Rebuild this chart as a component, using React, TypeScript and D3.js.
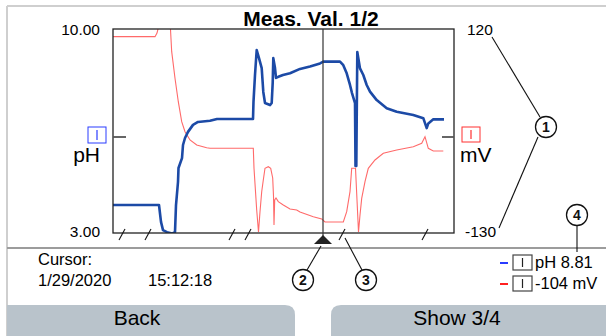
import * as d3 from "d3";

// pH series: [sample, pH]
const phPoints: [number, number][] = [
  [0, 3.96], [46, 3.96], [48, 3.38], [50, 3.1], [54, 3.03], [59, 2.98], [62, 3.03],
  [63, 3.96], [65, 4.75], [65.5, 5.23], [69, 5.57], [70, 6.02], [72, 6.26], [75, 6.47],
  [80, 6.71], [85, 6.81], [97, 6.85], [104, 6.91], [140, 6.91], [140.5, 7.51], [142, 8.42],
  [143.7, 9.28], [146, 9.0], [148.7, 8.66], [150.3, 7.84], [152, 7.46], [157, 7.39],
  [158.7, 7.46], [159.7, 8.15], [160.3, 9.0], [162, 8.66], [163, 8.32], [165.3, 8.36],
  [170, 8.42], [177, 8.48], [187, 8.63], [197, 8.71], [207, 8.82], [210.3, 8.88], [227, 8.88],
  [230.3, 8.76], [233.7, 8.48], [237, 8.08], [239, 7.8], [242, 7.46], [242.5, 5.3],
  [243.3, 5.3], [244.3, 9.21], [247, 8.65], [250.3, 8.42], [253.7, 8.08], [257, 7.85],
  [263.7, 7.56], [273.7, 7.28], [283.7, 7.16], [300.3, 7.05], [310.3, 6.94], [313.7, 6.6],
  [315.3, 6.76], [320.3, 6.9], [331, 6.9],
];

// mV series: [sample, mV]
const mvPoints: [number, number][] = [
  [0, 110.6], [42, 110.6], [44, 115], [45.5, 122.5], [47, 135], [56, 135], [57.5, 119.4],
  [58.7, 92.2], [62, 59.6], [65.3, 30.9], [68.7, 6.4], [72, -5.9], [77, -16], [83.7, -22.2],
  [93.7, -25.5], [97, -26.2], [140.3, -26.2], [141, -50.7], [143.7, -101.8], [145.5, -128.8],
  [147, -103.9], [148.7, -79.4], [150.3, -65], [152, -50.7], [155.3, -48.8], [157.7, -50.7],
  [159.7, -62.6], [160.5, -84.7], [161, -120.2], [161.7, -89.6], [163, -87.1], [165.3, -91.6],
  [170.3, -95.7], [177, -100.6], [183.7, -101.8], [187, -104.3], [200.3, -110], [208.7, -112.8],
  [212, -116.5], [230.3, -116.5], [233.7, -103.9], [237, -79.4], [238.7, -50.7], [242.5, -50.7],
  [244, -89.6], [245.5, -128.8], [247, -108], [248.7, -87.5], [252, -67.1], [255.3, -50.7],
  [262, -40.5], [270.3, -32.3], [283.7, -28.3], [300.3, -24.2], [308.7, -20.1], [312, -12],
  [315.3, -26.2], [320.3, -29.5], [330.3, -29.5],
];

const phDomain = [3, 10];
const mvDomain = [-130, 120];
const phTickLabels = ["10.00", "3.00"];
const mvTickLabels = ["120", "-130"];
const breakT = [9, 35, 119, 135, 229, 312];
const cursorT = 210;
const cursorDate = "1/29/2020";
const cursorTime = "15:12:18";
const legendLabels = ["pH 8.81", "-104 mV"];
const legendColors = ["#2a3cff", "#ff2020"];

const FONT = "'Liberation Sans', Arial, sans-serif";
const BLUE = "#1c4aa6";
const RED = "#ff6a6a";
const BTN = "#b9c3cb";

function Callout({ cx, cy, n }: { cx: number; cy: number; n: string }) {
  return (
    <g>
      <circle cx={cx} cy={cy} r={10.5} fill="#fff" stroke="#111" strokeWidth={1.3} />
      <text x={cx} y={cy + 5} textAnchor="middle" fontFamily={FONT} fontWeight="bold" fontSize={14} fill="#111">
        {n}
      </text>
    </g>
  );
}

export default function App() {
  const W = 606;
  const H = 336;
  const left = 113, right = 454, top = 29, bottom = 233;

  const x = d3.scaleLinear().domain([0, 341]).range([left, right]);
  const yPh = d3.scaleLinear().domain(phDomain).range([bottom, top]);
  const yMv = d3.scaleLinear().domain(mvDomain).range([bottom, top]);

  const phLine = d3.line<[number, number]>().x((d) => x(d[0])).y((d) => yPh(d[1]));
  const mvLine = d3.line<[number, number]>().x((d) => x(d[0])).y((d) => yMv(d[1]));

  const cx = x(cursorT);
  const midY = 137;

  return (
    <div style={{ position: "fixed", left: 0, top: 0 }}>
      <svg width={W} height={H} style={{ display: "block", background: "#fff" }}>
        <defs>
          <clipPath id="plot">
            <rect x={left} y={top} width={right - left} height={bottom - top} />
          </clipPath>
        </defs>

        {/* screen frame */}
        <line x1={7} y1={6} x2={W} y2={6} stroke="#cfcfcf" strokeWidth={2} />
        <line x1={7} y1={6} x2={7} y2={H} stroke="#cfcfcf" strokeWidth={2} />

        <text x={311} y={26} textAnchor="middle" fontFamily={FONT} fontWeight="bold" fontSize={21} fill="#000">
          Meas. Val. 1/2
        </text>

        {/* series */}
        <g clipPath="url(#plot)">
          <path d={mvLine(mvPoints) ?? ""} fill="none" stroke={RED} strokeWidth={1.1} />
          <path d={phLine(phPoints) ?? ""} fill="none" stroke={BLUE} strokeWidth={2.6} strokeLinejoin="round" />
        </g>

        {/* plot frame */}
        <rect x={left} y={top} width={right - left} height={bottom - top} fill="none" stroke="#222" strokeWidth={1.3} />
        <line x1={left} y1={midY} x2={left + 13} y2={midY} stroke="#555" strokeWidth={1.8} />
        <line x1={right - 12} y1={midY} x2={right} y2={midY} stroke="#555" strokeWidth={1.8} />

        {/* axis breaks */}
        {breakT.map((t) => (
          <line key={t} x1={x(t) - 3} y1={240} x2={x(t) + 3} y2={229} stroke="#111" strokeWidth={1.1} />
        ))}

        {/* left axis */}
        <text x={100} y={yPh(10) + 6} textAnchor="end" fontFamily={FONT} fontSize={15.5}>{phTickLabels[0]}</text>
        <text x={100} y={yPh(3) + 4} textAnchor="end" fontFamily={FONT} fontSize={15.5}>{phTickLabels[1]}</text>
        <rect x={88} y={127} width={18} height={16} fill="#fff" stroke="#2a3cff" strokeWidth={1} />
        <line x1={97} y1={130} x2={97} y2={140} stroke="#2a3cff" strokeWidth={1.2} />
        <text x={100} y={162} textAnchor="end" fontFamily={FONT} fontSize={21}>pH</text>

        {/* right axis */}
        <text x={467} y={yMv(120) + 6} fontFamily={FONT} fontSize={15.5}>{mvTickLabels[0]}</text>
        <text x={465} y={yMv(-130) + 4} fontFamily={FONT} fontSize={15.5}>{mvTickLabels[1]}</text>
        <rect x={462} y={127} width={18} height={15} fill="#fff" stroke="#ff3030" strokeWidth={1} />
        <line x1={471} y1={130} x2={471} y2={139} stroke="#ff3030" strokeWidth={1.2} />
        <text x={460} y={162} fontFamily={FONT} fontSize={21}>mV</text>

        {/* cursor */}
        <line x1={cx} y1={top} x2={cx} y2={236} stroke="#333" strokeWidth={1.2} />
        <path d={`M${cx},235 L${cx + 9},244 L${cx - 9},244 Z`} fill="#222" />

        {/* separator */}
        <line x1={7} y1={248} x2={W} y2={248} stroke="#9c9c9c" strokeWidth={2} />

        {/* callouts */}
        <line x1={492} y1={37} x2={540} y2={117} stroke="#111" strokeWidth={1.1} />
        <line x1={538} y1={137} x2={499} y2={228} stroke="#111" strokeWidth={1.1} />
        <Callout cx={546} cy={127} n="1" />
        <line x1={577} y1={225} x2={577} y2={252} stroke="#111" strokeWidth={1.1} />
        <Callout cx={577} cy={215} n="4" />
        <line x1={307} y1={270} x2={321} y2={246} stroke="#111" strokeWidth={1.1} />
        <Callout cx={303} cy={280} n="2" />
        <line x1={362} y1={270} x2={345} y2={238} stroke="#111" strokeWidth={1.1} />
        <Callout cx={366} cy={280} n="3" />

        {/* cursor info */}
        <text x={38} y={265} fontFamily={FONT} fontSize={16.5}>Cursor:</text>
        <text x={38} y={286} fontFamily={FONT} fontSize={16.5}>{cursorDate}</text>
        <text x={148} y={286} fontFamily={FONT} fontSize={16.5}>{cursorTime}</text>

        {/* legend */}
        {legendLabels.map((lab, i) => {
          const yy = 263 + i * 21;
          return (
            <g key={lab}>
              <line x1={500} y1={yy} x2={508} y2={yy} stroke={legendColors[i]} strokeWidth={2} />
              <rect x={513} y={yy - 8} width={19} height={15} fill="#fff" stroke="#444" strokeWidth={1.2} />
              <line x1={522.5} y1={yy - 5} x2={522.5} y2={yy + 4} stroke="#222" strokeWidth={1.2} />
              <text x={535} y={yy + 5} fontFamily={FONT} fontSize={16.5}>{lab}</text>
            </g>
          );
        })}

        {/* buttons */}
        <path d={`M7,305 H285 Q295,305 295,315 V${H} H7 Z`} fill={BTN} />
        <text x={137} y={325} textAnchor="middle" fontFamily={FONT} fontSize={21}>Back</text>
        <path d={`M${W},305 H341 Q331,305 331,315 V${H} H${W} Z`} fill={BTN} />
        <text x={457} y={325} textAnchor="middle" fontFamily={FONT} fontSize={21}>Show 3/4</text>
      </svg>
    </div>
  );
}
